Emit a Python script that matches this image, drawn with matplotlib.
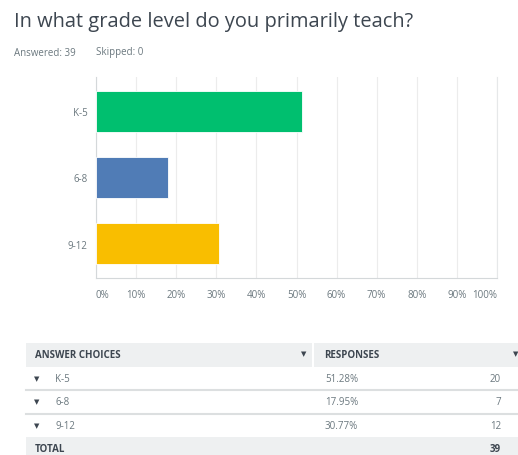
import matplotlib.pyplot as plt
from matplotlib.patches import Rectangle

# survey data
choices = ["K-5", "6-8", "9-12"]
percents = [51.28, 17.95, 30.77]
counts = [20, 7, 12]
answered = 39
skipped = 0
bar_colors = ["#00bf6f", "#507cb6", "#f9be00"]
x_ticks = [0, 10, 20, 30, 40, 50, 60, 70, 80, 90, 100]

W, H = 518, 456
plt.rcParams['font.family'] = ['Open Sans', 'DejaVu Sans']
fig = plt.figure(figsize=(W / 100, H / 100), dpi=100)
fig.patch.set_facecolor("white")

# overlay axes in pixel coordinates for the texts and the table
bg = fig.add_axes([0, 0, 1, 1])
bg.set_xlim(0, W)
bg.set_ylim(H, 0)
bg.axis("off")

title_col = "#3d4650"
grey = "#6b787f"
fs = 7

bg.text(14, 22, "In what grade level do you primarily teach?", fontsize=14.4,
        color=title_col, va="center", ha="left")
bg.text(14, 53, "Answered: %d" % answered, fontsize=fs, color=grey, va="center")
bg.text(96, 53, "Skipped: %d" % skipped, fontsize=fs, color=grey, va="center")

# bar chart
ax = fig.add_axes([96 / W, (H - 279) / H, 401 / W, 201 / H])
ypos = list(range(len(choices)))
ax.barh(ypos, percents, height=0.62, color=bar_colors, edgecolor="white",
        linewidth=0.6, zorder=3)
ax.set_xlim(0, 100)
ax.set_ylim(2.52, -0.52)
ax.set_yticks(ypos)
ax.set_yticklabels(choices, fontsize=fs, color=grey)
ax.set_xticks(x_ticks)
ax.set_xticklabels(["%d%%" % t for t in x_ticks], fontsize=fs, color=grey)
labels = ax.get_xticklabels()
labels[0].set_horizontalalignment("left")
labels[-1].set_horizontalalignment("right")
ax.tick_params(axis="x", length=0, pad=8)
ax.tick_params(axis="y", length=0, pad=6)
ax.grid(axis="x", color="#ececec", linewidth=0.8, zorder=0)
ax.spines["top"].set_visible(False)
ax.spines["left"].set_color("#d4d8da")
ax.spines["bottom"].set_color("#d4d8da")
ax.spines["right"].set_color("#e6e8e9")

# table below the chart
hdr_bg = "#eef0f1"
line_col = "#dcdfe0"
tri = 5
bg.add_patch(Rectangle((26, 344), 286, 24, color=hdr_bg, lw=0))
bg.add_patch(Rectangle((314, 344), 210, 24, color=hdr_bg, lw=0))
bg.text(35, 356, "ANSWER CHOICES", fontsize=fs, fontweight="bold",
        color=title_col, va="center")
bg.text(304, 355, "\u25BC", fontsize=tri, color=title_col, va="center", ha="center")
bg.text(324, 356, "RESPONSES", fontsize=fs, fontweight="bold",
        color=title_col, va="center")
bg.text(516, 355, "\u25BC", fontsize=tri, color=title_col, va="center", ha="center")

row_top = 368
row_h = 23.3
for i, (c, p, n) in enumerate(zip(choices, percents, counts)):
    yc = row_top + row_h * i + row_h / 2
    bg.text(37, yc, "\u25BC", fontsize=tri, color=title_col, va="center", ha="center")
    bg.text(55, yc, c, fontsize=fs, color=grey, va="center")
    bg.text(325, yc, "%.2f%%" % p, fontsize=fs, color=grey, va="center")
    bg.text(501, yc, str(n), fontsize=fs, color=grey, va="center", ha="right")
    if i < len(choices) - 1:
        bg.plot([26, W], [row_top + row_h * (i + 1)] * 2, color=line_col, lw=1.5)

total_y = row_top + row_h * len(choices)
bg.add_patch(Rectangle((26, total_y), W - 26, H - total_y, color=hdr_bg, lw=0))
bg.text(35, total_y + 12, "TOTAL", fontsize=fs, fontweight="bold",
        color=title_col, va="center")
bg.text(501, total_y + 12, str(sum(counts)), fontsize=fs, fontweight="bold",
        color=title_col, va="center", ha="right")

fig.savefig("out.png", dpi=100)
